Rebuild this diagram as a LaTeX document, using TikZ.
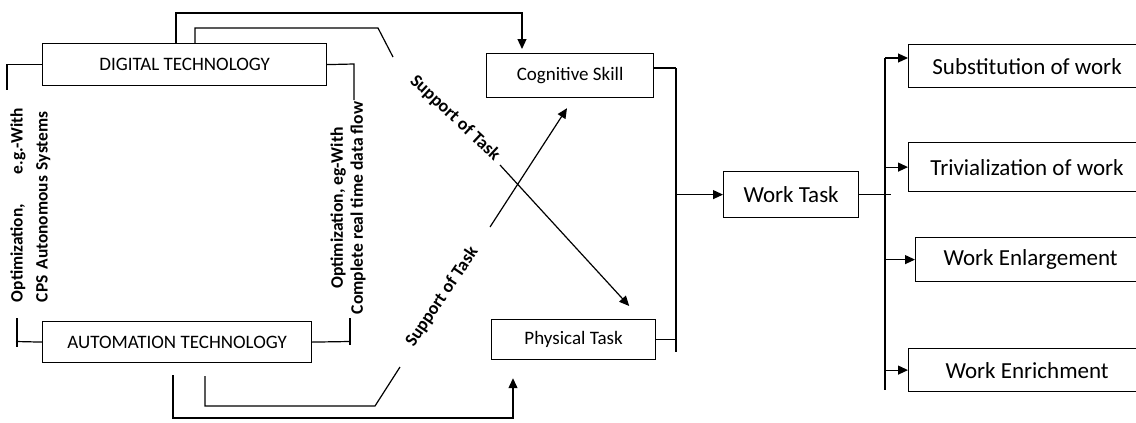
\documentclass[tikz,border=0pt]{standalone}
\usepackage{fontspec}
\setmainfont{Carlito}
\usetikzlibrary{arrows.meta,calc}
\begin{document}
\begin{tikzpicture}[x=0.5pt,y=-0.5pt,
  line width=0.6pt,
  box/.style={draw, line width=0.6pt, inner sep=0pt, anchor=north west},
  lbl/.style={font=\fontsize{9.5}{11}\selectfont},
  rlbl/.style={font=\fontsize{11.5}{13}\selectfont},
  note/.style={font=\bfseries\fontsize{9}{10}\selectfont, inner sep=0pt},
  arr/.style={-{Triangle[length=5pt,width=4.5pt]}},
]
\useasboundingbox (0,0) rectangle (1136,423);
\clip (0,0) rectangle (1136,423);

% boxes
\node[box, minimum width=142pt, minimum height=21pt, lbl] (dig) at (42,43) {DIGITAL TECHNOLOGY};
\node[box, minimum width=134.5pt, minimum height=20.5pt, lbl] (aut) at (42,321) {AUTOMATION TECHNOLOGY};
\node[box, minimum width=83.5pt, minimum height=22pt, lbl] (cog) at (486,53) {Cognitive Skill};
\node[box, minimum width=82pt, minimum height=20pt, lbl] (phy) at (491,319) {Physical Task};
\node[box, minimum width=67.5pt, minimum height=23pt, rlbl] (wt) at (723,171) {Work Task};
\node[box, minimum width=118.5pt, minimum height=21.5pt, rlbl] (sub) at (908,44) {Substitution of work};
\node[box, minimum width=118.5pt, minimum height=24.5pt, rlbl] (tri) at (908,142) {Trivialization of work};
\node[box, minimum width=115pt, minimum height=22pt, rlbl] (enl) at (915,237) {Work Enlargement};
\node[box, minimum width=118.5pt, minimum height=21.5pt, rlbl] (enr) at (908,348) {Work Enrichment};

% rotated labels
\node[note, rotate=90, text width=97pt, align=left, font=\bfseries\fontsize{8.7}{12.5}\selectfont] (lt) at (30.5,205) {Optimization,\hfill e.g.-With\\CPS Autonomous Systems};
\node[note, rotate=90, align=center, font=\bfseries\fontsize{8.8}{10}\selectfont] (rt) at (348,208) {Optimization, eg-With\\Complete real time data flow};
\node[note, rotate=-43] (s1) at (455,118) {Support of Task};
\node[note, rotate=56] (s2) at (442,297) {Support of Task};

% left brackets
\draw (dig.west) -| (7,90);
\draw (aut.west) -- (16,341.5);
\draw (17,318) -- (17,347);
% right brackets
\draw (dig.east) -- (354,64) -- (354,100);
\draw (aut.east) -- (350,341.5);
\draw (350,318) -- (350,345);

% top connectors
\draw[arr] ($(dig.north west)+(134,0)$) |- (522,13) -- ($(cog.north west)+(36,-4)$);
\draw ($(dig.north west)+(153,0)$) |- (378,28) -- (393,57);
\draw[arr] (500,165) -- ($(phy.north east)+(-27,-13)$);

% bottom connectors
\draw[arr] ($(aut.south west)+(131,12)$) |- (513,418) -- ($(phy.south west)+(22,18)$);
\draw ($(aut.south west)+(163,13)$) |- (375,406) -- (400,367);
\draw[arr] (490,227) -- ($(cog.south west)+(81,10)$);

% collector to Work Task
\coordinate (vt) at (676,68);
\coordinate (vb) at (676,352);
\draw (vt) -- (vb);
\draw (cog.east |- vt) -- (vt);
\draw (phy.east) -- (phy.east -| vt);
\draw[arr] (wt.west -| vt) -- (wt.west);

% distributor
\draw (wt.east) -- ++(32,0);
\coordinate (bt) at (885,58);
\coordinate (bb) at (885,390);
\draw (bt) -- (bb);
\draw[arr] (bt) -- (bt -| sub.west);
\draw[arr] (tri.west -| bt) -- (tri.west);
\draw[arr] (enl.west -| bt) -- (enl.west);
\draw[arr] (enr.west -| bt) -- (enr.west);
\end{tikzpicture}
\end{document}
